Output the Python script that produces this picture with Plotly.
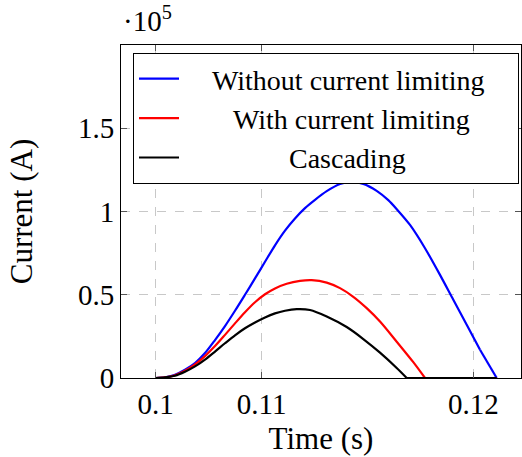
import plotly.graph_objects as go

# Time axis values (s) and currents (x1e5 A)
t_blue = [0.1, 0.100439, 0.100911, 0.101383, 0.101856, 0.102328, 0.1028, 0.103272,
          0.103744, 0.104216, 0.104688, 0.105161, 0.105633, 0.106105, 0.106577,
          0.107049, 0.107521, 0.108074, 0.108702, 0.109254, 0.109802, 0.110434,
          0.110982, 0.111379, 0.112007, 0.112715, 0.113423, 0.114051, 0.114684,
          0.115312, 0.1161]
i_blue = [0.0, 0.0036, 0.0198, 0.0498, 0.0899, 0.1499, 0.2280, 0.3120,
          0.4040, 0.5000, 0.5980, 0.6980, 0.7970, 0.8850, 0.9580,
          1.0200, 1.0700, 1.1220, 1.1650, 1.1780, 1.1660, 1.1240,
          1.0680, 1.0140, 0.9191, 0.7794, 0.6193, 0.4694, 0.3195,
          0.1697, 0.0]

t_red = [0.1, 0.100439, 0.100911, 0.101383, 0.101856, 0.102328, 0.1028, 0.103272,
         0.103744, 0.104216, 0.104688, 0.105161, 0.105633, 0.106185, 0.106813,
         0.107365, 0.108074, 0.108702, 0.10933, 0.109962, 0.11059, 0.111379,
         0.112162, 0.112715, 0.1161]
i_red = [0.0, 0.0036, 0.0166, 0.0436, 0.0816, 0.1316, 0.1916, 0.2590,
         0.3280, 0.3950, 0.4550, 0.5030, 0.5380, 0.5660, 0.5835,
         0.5880, 0.5731, 0.5398, 0.4877, 0.4195, 0.3391, 0.2180,
         0.0950, 0.0, 0.0]

t_black = [0.1, 0.100439, 0.100911, 0.101383, 0.101856, 0.102328, 0.1028, 0.103272,
           0.103744, 0.104216, 0.104688, 0.105161, 0.105633, 0.106105, 0.106657,
           0.107285, 0.108074, 0.109018, 0.109802, 0.11059, 0.111379, 0.111851, 0.1161]
i_black = [0.0, 0.0036, 0.0136, 0.0376, 0.0696, 0.1106, 0.1586, 0.2086,
           0.2566, 0.2986, 0.3336, 0.3640, 0.3880, 0.4040, 0.4137,
           0.4085, 0.3693, 0.3060, 0.2340, 0.1520, 0.0600, 0.0, 0.0]

scale = 1e5
series_names = ["Without current limiting", "With current limiting", "Cascading"]
series_colors = ["#0000ff", "#ff0000", "#000000"]

x_tickvals = [0.1, 0.105, 0.115]
x_ticktext = ["0.1", "0.11", "0.12"]
y_tickvals = [0, 0.5e5, 1e5, 1.5e5]
y_ticktext = ["0", "0.5", "1", "1.5"]

FONT = "Liberation Serif, Times New Roman, Times, DejaVu Serif, serif"
NB = "\u00a0"
lead_pad = [4, 7, 15]
trail_pad = [4, 0, 0]

fig = go.Figure()
for t, i, name, col, lp, tp in zip([t_blue, t_red, t_black], [i_blue, i_red, i_black],
                                   series_names, series_colors, lead_pad, trail_pad):
    y = [v * scale for v in i]
    # smooth pulse up to the zero crossing (spline)
    fig.add_trace(go.Scatter(
        x=t[:-1], y=y[:-1], mode="lines", name=NB * lp + name + NB * tp,
        line=dict(color=col, width=2.2, shape="spline", smoothing=0.8),
    ))
for t, i, name, col in zip([t_blue, t_red, t_black], [i_blue, i_red, i_black],
                           series_names, series_colors):
    y = [v * scale for v in i]
    # flat zero tail after the crossing
    fig.add_trace(go.Scatter(
        x=t[-2:], y=y[-2:], mode="lines", showlegend=False,
        line=dict(color=col, width=2.2), hoverinfo="skip",
    ))

axis_common = dict(
    showline=True, linecolor="#000000", linewidth=1, mirror="ticks",
    ticks="inside", ticklen=6, tickcolor="#555555", tickwidth=1,
    showgrid=True, gridcolor="#c8c8c8", griddash="dash", gridwidth=1,
    zeroline=False, tickfont=dict(family=FONT, size=29, color="#000000"),
)

fig.update_xaxes(range=[0.098362, 0.117247], tickvals=x_tickvals, ticktext=x_ticktext,
                 title=dict(text="Time (s)", font=dict(family=FONT, size=31, color="#000000"),
                            standoff=8),
                 **axis_common)
fig.update_yaxes(range=[0, 2e5], tickvals=y_tickvals, ticktext=y_ticktext,
                 title=dict(text="Current (A)", font=dict(family=FONT, size=31, color="#000000"),
                            standoff=36),
                 **axis_common)

fig.add_annotation(x=0.0, y=1.0, xref="paper", yref="paper", xanchor="left", yanchor="bottom",
                   yshift=6, showarrow=False,
                   text="·10<sup>5</sup>", font=dict(family=FONT, size=29, color="#000000"))

fig.update_layout(
    width=522, height=457,
    margin=dict(l=121, r=1, t=45, b=79, autoexpand=False),
    paper_bgcolor="white", plot_bgcolor="white",
    font=dict(family=FONT, color="#000000"),
    showlegend=True,
    legend=dict(x=0.03, y=0.976, xanchor="left", yanchor="top",
                bgcolor="white", bordercolor="#000000", borderwidth=1,
                font=dict(family=FONT, size=28, color="#000000"),
                itemwidth=40, tracegroupgap=0),
)

fig.write_html("out.html")
